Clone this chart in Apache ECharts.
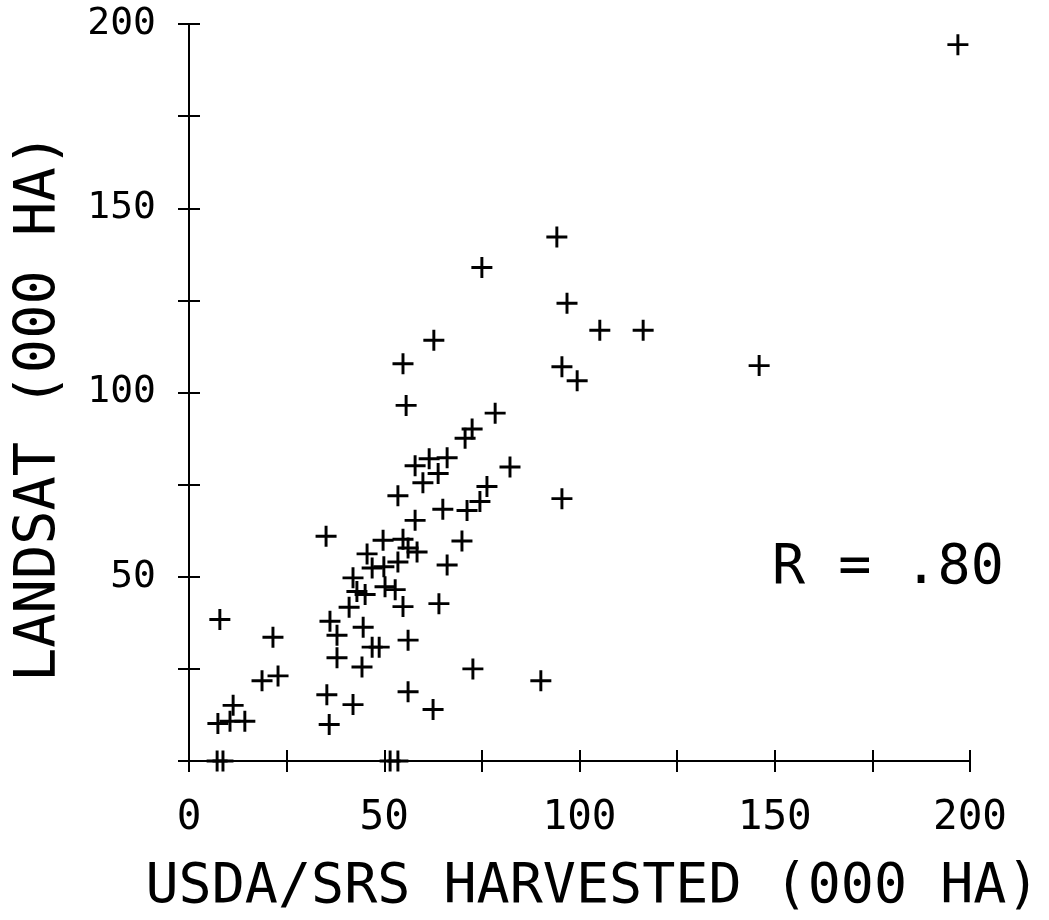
<!DOCTYPE html>
<html>
<head>
<meta charset="utf-8">
<title>Landsat vs USDA/SRS</title>
<script src="https://cdn.jsdelivr.net/npm/echarts@6/dist/echarts.min.js"></script>
<style>
	html, body { margin: 0; padding: 0; background: #fff; }
	#chart_box { width: 1049px; height: 920px; }
</style>
</head>
<body>
<div id="chart_box"></div>
<script>
// USDA/SRS harvested area (000 ha)
var usda_x = [
	196.9, 146.0, 94.2, 75.0, 96.8, 105.2, 116.3, 95.5, 99.4, 62.7,
	54.8, 55.6, 78.4, 72.5, 70.7, 82.2, 57.9, 61.5, 66.1, 63.8,
	59.9, 53.5, 76.3, 74.5, 71.2, 65.0, 57.9, 95.5, 35.1, 49.7,
	54.8, 56.1, 58.4, 69.9, 45.6, 46.9, 49.9, 53.5, 66.1, 42.0,
	43.0, 45.1, 50.2, 52.8, 41.0, 54.8, 64.0, 36.1, 37.9, 44.6,
	7.9, 21.5, 46.9, 48.7, 56.1, 37.9, 44.3, 72.7, 90.1, 18.7,
	22.8, 35.3, 42.0, 56.1, 62.5, 11.3, 7.4, 10.5, 14.3, 35.9,
	7.2, 8.7, 51.5, 53.5
];
// Landsat estimate (000 ha), same order
var landsat_y = [
	194.4, 107.3, 142.2, 133.9, 124.2, 116.9, 116.9, 107.0, 103.2, 114.2,
	107.8, 96.5, 94.4, 90.1, 87.6, 79.8, 80.1, 82.0, 82.3, 78.0,
	75.5, 72.0, 74.5, 70.4, 68.0, 68.3, 65.3, 71.2, 61.0, 59.9,
	60.2, 57.8, 56.7, 59.7, 56.2, 52.4, 52.7, 54.0, 53.2, 49.7,
	46.0, 45.2, 47.3, 46.5, 41.7, 41.9, 42.7, 37.9, 34.1, 36.3,
	38.4, 33.6, 30.9, 30.9, 32.8, 28.0, 25.5, 25.0, 21.8, 21.8,
	23.1, 18.0, 15.3, 18.8, 14.0, 15.1, 10.2, 10.8, 10.8, 9.9,
	0, 0, 0, 0
];
var x_labels = [0, 50, 100, 150, 200];
var y_labels = [50, 100, 150, 200];
var r_text = 'R = .80';

var mono = "'DejaVu Sans Mono', 'Liberation Mono', monospace";
// plus sign, filled so it stays solid black
var plus_path = 'path://M8.6,0H11.4V8.6H20V11.4H11.4V20H8.6V11.4H0V8.6H8.6Z';

function make_points() {
	var pts = [];
	for (var i = 0; i < usda_x.length; i++) {
		pts.push([usda_x[i], landsat_y[i]]);
	}
	return pts;
}

function tick_axis(is_x, inside) {
	var ax = {
		type: 'value',
		min: 0,
		max: 200,
		interval: 25,
		position: is_x ? 'bottom' : 'left',
		splitLine: { show: false },
		axisLine: { show: !inside, lineStyle: { color: '#000', width: 2 } },
		axisTick: { show: true, inside: inside, length: 11, lineStyle: { color: '#000', width: 2 } },
		axisLabel: { show: false }
	};
	return ax;
}

document.addEventListener('DOMContentLoaded', function() {
	var chart = echarts.init(document.getElementById('chart_box'), null, { renderer: 'canvas' });

	var x_main = tick_axis(true, false);
	x_main.axisLabel = {
		show: true,
		margin: 37,
		color: '#000',
		fontFamily: mono,
		fontSize: 41,
		formatter: function(v) {
			return x_labels.indexOf(v) > -1 ? String(v) : '';
		}
	};
	x_main.name = 'USDA/SRS HARVESTED (000 HA)';
	x_main.nameLocation = 'middle';
	x_main.nameGap = 99;
	x_main.nameTextStyle = { color: '#000', fontFamily: mono, fontSize: 55, padding: [0, 0, 0, 26] };

	var y_main = tick_axis(false, false);
	y_main.axisLabel = {
		show: true,
		margin: 33,
		color: '#000',
		fontFamily: mono,
		fontSize: 38,
		formatter: function(v) {
			return y_labels.indexOf(v) > -1 ? String(v) : '';
		}
	};
	y_main.name = 'LANDSAT (000 HA)';
	y_main.nameLocation = 'middle';
	y_main.nameGap = 120;
	y_main.nameRotate = 90;
	y_main.nameTextStyle = { color: '#000', fontFamily: mono, fontSize: 57, padding: [0, 30, 0, 0] };

	var option = {
		animation: false,
		backgroundColor: '#fff',
		grid: { left: 189, right: 79, top: 24, bottom: 152, containLabel: false },
		xAxis: [x_main, tick_axis(true, true)],
		yAxis: [y_main, tick_axis(false, true)],
		graphic: [{
			type: 'text',
			left: 772,
			top: 541,
			style: { text: r_text, fill: '#000', font: '55px ' + mono }
		}],
		series: [{
			type: 'scatter',
			xAxisIndex: 0,
			yAxisIndex: 0,
			symbol: plus_path,
			symbolSize: 21,
			itemStyle: { color: '#000', opacity: 1 },
			data: make_points()
		}]
	};

	chart.setOption(option);
});
</script>
</body>
</html>
